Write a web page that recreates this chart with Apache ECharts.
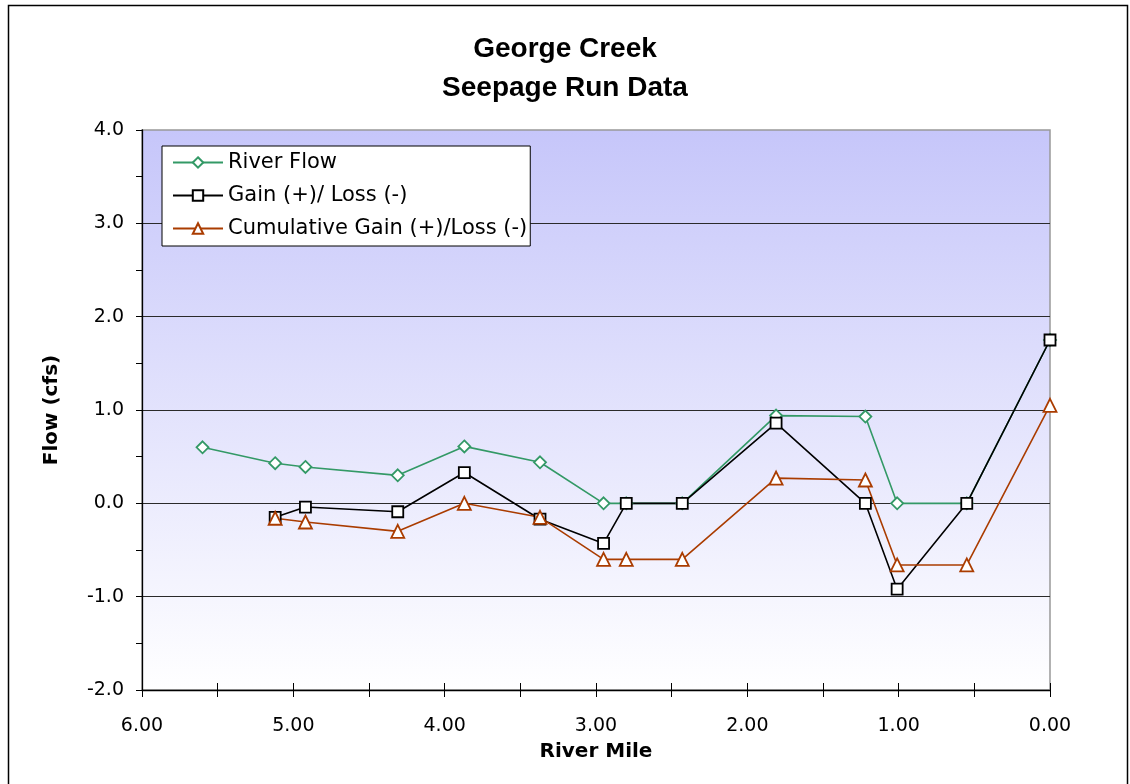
<!DOCTYPE html>
<html>
<head>
<meta charset="utf-8">
<script src="https://cdn.jsdelivr.net/npm/echarts@6/dist/echarts.min.js"></script>
<style>
  html, body { margin: 0; padding: 0; background: #fff; }
  #chart { width: 1130px; height: 784px; }
</style>
</head>
<body>
<div id="chart"></div>
<script>
// Seepage run measurements along George Creek (river mile, flow in cfs)
const riverMile  = [5.60, 5.12, 4.92, 4.31, 3.87, 3.37, 2.95, 2.80, 2.43, 1.81, 1.22, 1.01, 0.55, 0.00];
const riverFlow  = [0.60, 0.43, 0.39, 0.30, 0.61, 0.44, 0.00, 0.00, 0.00, 0.94, 0.93, 0.00, 0.00, 1.75];
const gainLoss   = [null, -0.15, -0.04, -0.09, 0.33, -0.17, -0.43, 0.00, 0.00, 0.86, 0.00, -0.92, 0.00, 1.75];
const cumulative = [null, -0.16, -0.20, -0.30, 0.00, -0.15, -0.60, -0.60, -0.60, 0.27, 0.25, -0.66, -0.66, 1.05];

const seriesNames = ['River Flow', 'Gain (+)/ Loss (-)', 'Cumulative Gain (+)/Loss (-)'];
// Axis ranges; ticks every half unit, labels on whole units
const xRange = { min: 0, max: 6, tickStep: 0.5 };
const yRange = { min: -2, max: 4, tickStep: 0.5 };

const toPairs = vals => riverMile.map((m, i) => vals[i] === null ? null : [m, vals[i]]).filter(p => p);
const isWhole = v => Math.abs(v - Math.round(v)) < 1e-6;

const FONT = 'DejaVu Sans';
const chart = echarts.init(document.getElementById('chart'), null, { renderer: 'canvas' });

function lineSeries(name, vals, color, symbol, size) {
  return {
    name: name,
    type: 'line',
    data: toPairs(vals),
    symbol: symbol,
    symbolSize: size,
    showAllSymbol: true,
    lineStyle: { color: color, width: 1.6 },
    itemStyle: { color: '#fff', borderColor: color, borderWidth: 1.8 },
    emphasis: { disabled: true },
    animation: false
  };
}

const xBase = {
  type: 'value',
  min: xRange.min,
  max: xRange.max,
  interval: xRange.tickStep,
  inverse: true,
  position: 'bottom',
  splitLine: { show: false }
};

// Horizontal gridlines only on whole values; the top edge stays grey
const yCount = Math.round((yRange.max - yRange.min) / yRange.tickStep) + 1;
const gridColors = [];
for (let i = 0; i < yCount; i++) {
  const v = yRange.min + i * yRange.tickStep;
  gridColors.push(i === 0 || i === yCount - 1 || !isWhole(v) ? 'rgba(0,0,0,0)' : '#2a2a2a');
}

chart.setOption({
  animation: false,
  backgroundColor: '#fff',
  title: {
    text: 'George Creek\nSeepage Run Data',
    left: 'center',
    top: 25,
    textStyle: { fontFamily: 'Liberation Sans', fontWeight: 'bold', fontSize: 28, lineHeight: 39, color: '#000' }
  },
  graphic: [{
    type: 'rect',
    silent: true,
    shape: { x: 8.5, y: 5.5, width: 1119, height: 800 },
    style: { fill: 'none', stroke: '#000', lineWidth: 1.5 },
    z: 100
  }],
  legend: {
    orient: 'vertical',
    left: 162,
    top: 146,
    padding: [5, 3, 6, 10],
    itemGap: 10,
    itemWidth: 50,
    itemHeight: 13,
    backgroundColor: '#fff',
    borderColor: '#000',
    borderWidth: 1,
    textStyle: { fontFamily: FONT, fontSize: 21, lineHeight: 23, color: '#000' },
    data: seriesNames
  },
  grid: {
    left: 142, top: 130, right: 80, bottom: 94,
    show: true,
    borderColor: '#999',
    borderWidth: 1.5,
    backgroundColor: new echarts.graphic.LinearGradient(0, 0, 0, 1, [
      { offset: 0, color: '#c6c6fa' },
      { offset: 1, color: '#ffffff' }
    ])
  },
  xAxis: [
    Object.assign({}, xBase, {
      axisLine: { show: true, onZero: false, lineStyle: { color: '#000', width: 1.3 } },
      axisTick: { show: true, length: 7, lineStyle: { color: '#000' } },
      axisLabel: { formatter: v => isWhole(v) ? v.toFixed(2) : '', margin: 27, fontFamily: FONT, fontSize: 19, color: '#000' },
      name: 'River Mile', nameLocation: 'middle', nameGap: 52,
      nameTextStyle: { fontFamily: FONT, fontWeight: 'bold', fontSize: 20, color: '#000' }
    }),
    Object.assign({}, xBase, {
      axisLine: { show: false, onZero: false },
      axisTick: { show: true, inside: true, length: 7, lineStyle: { color: '#000' } },
      axisLabel: { show: false }
    })
  ],
  yAxis: {
    type: 'value',
    min: yRange.min, max: yRange.max, interval: yRange.tickStep,
    axisLine: { show: true, onZero: false, lineStyle: { color: '#000', width: 1.3 } },
    axisTick: { show: true, length: 6, lineStyle: { color: '#000' } },
    axisLabel: { formatter: v => isWhole(v) ? v.toFixed(1) : '', margin: 18, fontFamily: FONT, fontSize: 19, color: '#000' },
    splitLine: { show: true, lineStyle: { color: gridColors, width: 1 } },
    name: 'Flow (cfs)', nameLocation: 'middle', nameGap: 80,
    nameTextStyle: { fontFamily: FONT, fontWeight: 'bold', fontSize: 20, color: '#000' }
  },
  series: [
    lineSeries(seriesNames[0], riverFlow, '#339966', 'diamond', 12),
    lineSeries(seriesNames[1], gainLoss, '#000000', 'rect', 11),
    lineSeries(seriesNames[2], cumulative, '#aa3c00', 'triangle', 13)
  ]
});
</script>
</body>
</html>
